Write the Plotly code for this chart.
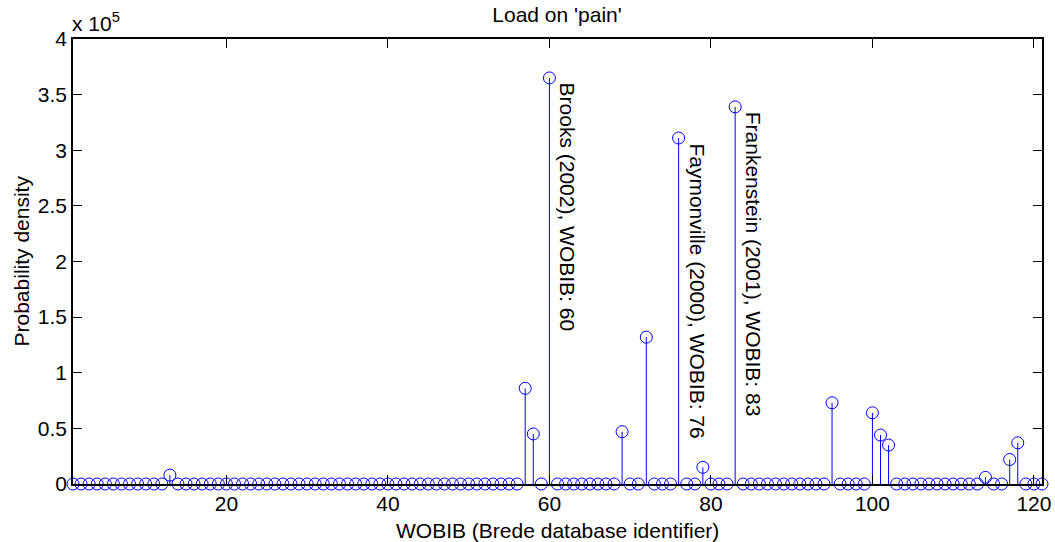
import plotly.graph_objects as go

# WOBIB identifiers (x) and probability density values (y)
wobib = list(range(1, 122))
density = [
    0, 0, 0, 0, 0, 0, 0, 0, 0, 0,            # 1-10
    0, 0, 8000, 0, 0, 0, 0, 0, 0, 0,          # 11-20
    0, 0, 0, 0, 0, 0, 0, 0, 0, 0,             # 21-30
    0, 0, 0, 0, 0, 0, 0, 0, 0, 0,             # 31-40
    0, 0, 0, 0, 0, 0, 0, 0, 0, 0,             # 41-50
    0, 0, 0, 0, 0, 0, 86000, 45000, 0, 365000,  # 51-60
    0, 0, 0, 0, 0, 0, 0, 0, 47000, 0,         # 61-70
    0, 132000, 0, 0, 0, 311000, 0, 0, 15000, 0,  # 71-80
    0, 0, 339000, 0, 0, 0, 0, 0, 0, 0,        # 81-90
    0, 0, 0, 0, 73000, 0, 0, 0, 0, 64000,     # 91-100
    44000, 35000, 0, 0, 0, 0, 0, 0, 0, 0,     # 101-110
    0, 0, 0, 6000, 0, 0, 22000, 37000, 0, 0,  # 111-120
    0,                                        # 121
]

ytick_vals = [0, 50000, 100000, 150000, 200000, 250000, 300000, 350000, 400000]
ytick_text = ["0", "0.5", "1", "1.5", "2", "2.5", "3", "3.5", "4"]
xtick_vals = [20, 40, 60, 80, 100, 120]

label_ids = [60, 76, 83]
label_texts = ["Brooks (2002), WOBIB: 60",
               "Faymonville (2000), WOBIB: 76",
               "Frankenstein (2001), WOBIB: 83"]

FONT = "Liberation Sans, Arial, Helvetica, sans-serif"
BLUE = "#0000FF"

# stems
sx, sy = [], []
for x, y in zip(wobib, density):
    if y != 0:
        sx += [x, x, None]
        sy += [0, y, None]

fig = go.Figure()
fig.add_trace(go.Scatter(x=sx, y=sy, mode="lines",
                         line=dict(color=BLUE, width=1), hoverinfo="skip",
                         showlegend=False))
fig.add_trace(go.Scatter(x=wobib, y=density, mode="markers",
                         marker=dict(symbol="circle-open", size=12,
                                     color=BLUE, line=dict(width=1, color=BLUE)),
                         showlegend=False, cliponaxis=False))

for lid, txt in zip(label_ids, label_texts):
    yv = density[wobib.index(lid)]
    fig.add_annotation(x=lid, y=yv, text=txt, textangle=90, showarrow=False,
                       xanchor="left", yanchor="top", xshift=5, yshift=-3,
                       font=dict(family=FONT, size=21, color="black"))

fig.add_annotation(xref="paper", yref="paper", x=0, y=1, xanchor="left",
                   yanchor="bottom", yshift=2, xshift=-3, showarrow=False,
                   text="x 10<sup>5</sup>",
                   font=dict(family=FONT, size=21, color="black"))

# axis titles as annotations for exact placement
fig.add_annotation(xref="paper", yref="paper", x=0.5, y=0, xanchor="center",
                   yanchor="middle", yshift=-46, showarrow=False,
                   text="WOBIB (Brede database identifier)",
                   font=dict(family=FONT, size=21, color="black"))
fig.add_annotation(xref="paper", yref="paper", x=0, y=0.5, xanchor="center",
                   yanchor="middle", xshift=-52, textangle=-90, showarrow=False,
                   text="Probability density",
                   font=dict(family=FONT, size=21, color="black"))

axis_common = dict(showgrid=False, zeroline=False, showline=True,
                   linecolor="black", linewidth=1.5, mirror="ticks",
                   ticks="inside", ticklen=9, tickcolor="black", tickwidth=1,
                   automargin=False,
                   tickfont=dict(family=FONT, size=21, color="black"))

fig.update_xaxes(range=[1, 121], tickvals=xtick_vals, **axis_common)
fig.update_yaxes(range=[0, 400000], tickvals=ytick_vals, ticktext=ytick_text,
                 **axis_common)

fig.update_layout(
    width=1055, height=542,
    margin=dict(l=73, r=13, t=39, b=58, autoexpand=False),
    paper_bgcolor="white", plot_bgcolor="white",
    title=dict(text="Load on 'pain'", x=0.528, xanchor="center",
               y=1 - 15 / 542, yanchor="middle",
               font=dict(family=FONT, size=21, color="black")),
    showlegend=False,
)

fig.write_html("out.html")
